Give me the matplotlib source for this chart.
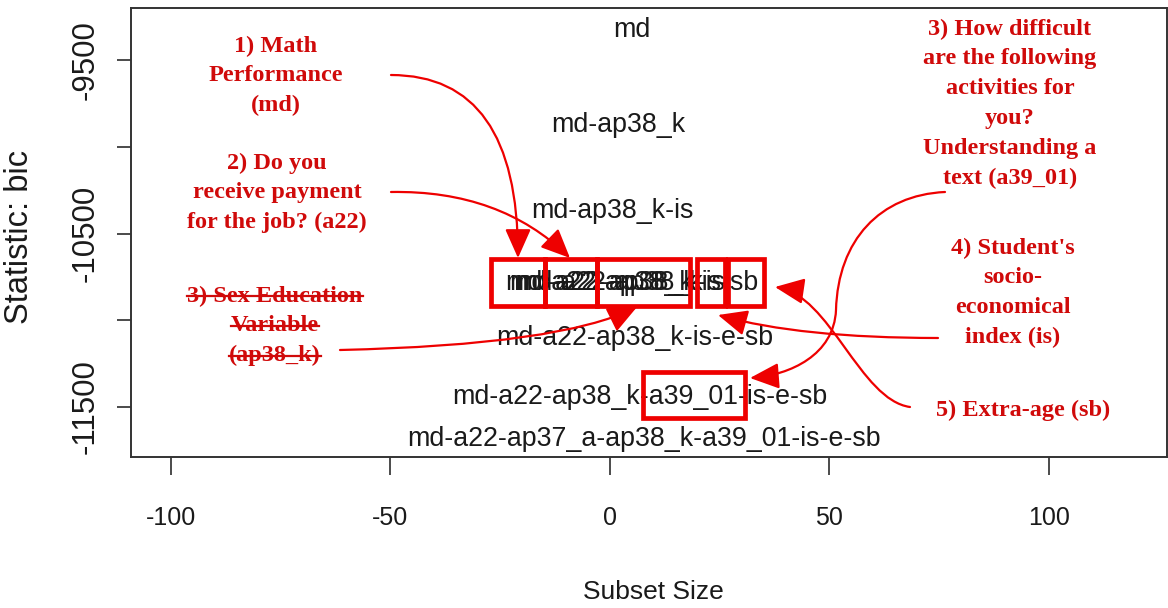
import matplotlib
matplotlib.use("Agg")
import matplotlib.pyplot as plt
from matplotlib.patches import Rectangle, FancyArrowPatch
from matplotlib.path import Path
from matplotlib.lines import Line2D

# best subset at each size: label, x position, bic value
subset_labels = [
    "md",
    "md-ap38_k",
    "md-ap38_k-is",
    "md-a22-ap38_k",
    "md-a22-ap38_k-is",
    "md-a22-ap38_k-is-sb",
    "md-a22-ap38_k-is-e-sb",
    "md-a22-ap38_k-a39_01-is-e-sb",
    "md-a22-ap37_a-ap38_k-a39_01-is-e-sb",
]
label_x = [5.0, 2.0, 0.5, -0.2, 1.7, 5.0, 5.7, 6.7, 7.7]
bic = [-9327, -9875, -10370, -10785, -10785, -10785, -11102, -11442, -11684]

x_ticks = [-100, -50, 0, 50, 100]
y_ticks = [-9500, -10000, -10500, -11000, -11500]
y_tick_labels = ["-9500", "", "-10500", "", "-11500"]

RED_TXT = "#d00a0a"
RED = "#ee0000"
W, H = 1168, 608

fig = plt.figure(figsize=(W / 100, H / 100), dpi=100)
ax = fig.add_axes([131 / W, 1 - 457 / H, (1167 - 131) / W, (457 - 8) / H])

for lab, x, y in zip(subset_labels, label_x, bic):
    ax.text(x, y, lab, ha="center", va="center", fontsize=19.3,
            family="Liberation Sans", color="#1a1a1a")

ax.set_xlim(-109.1, 126.9)
ax.set_ylim(-11788, -9200)
ax.set_xticks(x_ticks)
ax.set_xticklabels([str(v) for v in x_ticks], family="Liberation Sans", fontsize=18)
ax.set_yticks(y_ticks)
ax.set_yticklabels(y_tick_labels, family="Liberation Sans", fontsize=22.5,
                   rotation=90, va="center")
ax.tick_params(axis="x", length=13, width=1.1, pad=22, colors="#1a1a1a")
ax.tick_params(axis="y", length=10, width=1.1, pad=12, colors="#1a1a1a")
for s in ax.spines.values():
    s.set_linewidth(1.4)
    s.set_color("#333333")

fig.text(653 / W, 1 - 592 / H, "Subset Size", ha="center", va="center",
         fontsize=19, family="Liberation Sans", color="#1a1a1a")
fig.text(20 / W, 1 - 237 / H, "Statistic: bic", ha="center", va="center",
         rotation=90, fontsize=23.5, family="Liberation Sans", color="#1a1a1a")


def fxy(px, py):
    return (px / W, 1 - py / H)


# red annotation blocks: lines, centre x, first line y, strike-through
notes = [
    (["1) Math", "Performance", "(md)"], 276, 46, False),
    (["2) Do you", "receive payment", "for the job? (a22)"], 277, 163, False),
    (["3) Sex Education", "Variable", "(ap38_k)"], 275, 296, True),
    (["3) How difficult", "are the following", "activities for", "you?",
      "Understanding a", "text (a39_01)"], 1010, 29, False),
    (["4) Student's", "socio-", "economical", "index (is)"], 1013, 248, False),
    (["5) Extra-age (sb)"], 1023, 410, False),
]
struck = []
for lines, cx, y0, strike in notes:
    for i, ln in enumerate(lines):
        t = fig.text(*fxy(cx, y0 + i * 29.8), ln, ha="center", va="center",
                     fontsize=17.5, family="Liberation Serif", weight="bold",
                     color=RED_TXT)
        if strike:
            struck.append(t)

fig.canvas.draw()
rend = fig.canvas.get_renderer()
for t in struck:
    bb = t.get_window_extent(rend).transformed(fig.transFigure.inverted())
    ym = (bb.y0 + bb.y1) / 2
    fig.add_artist(Line2D([bb.x0, bb.x1], [ym, ym], color=RED_TXT, lw=1.6,
                          transform=fig.transFigure))

# highlight boxes (pixel extents)
boxes = [(491, 545, 259, 306), (545, 597, 259, 306), (597, 690, 259, 306),
         (697, 725, 259, 306), (728, 764, 259, 306), (643, 745, 372, 418)]
for x0, x1, y0, y1 in boxes:
    fig.add_artist(Rectangle(fxy(x0, y1), (x1 - x0) / W, (y1 - y0) / H,
                             fill=False, ec=RED, lw=3.4, joinstyle="miter",
                             transform=fig.transFigure))

C3, C4 = Path.CURVE3, Path.CURVE4
arrows = [
    ([(391, 75), (518, 75), (518, 258)], [Path.MOVETO, C3, C3]),
    ([(391, 192), (500, 190), (570, 258)], [Path.MOVETO, C3, C3]),
    ([(340, 350), (560, 345), (637, 307)], [Path.MOVETO, C3, C3]),
    ([(945, 192), (880, 195), (838, 240), (836, 310),
      (834, 355), (790, 375), (750, 378)],
     [Path.MOVETO, C4, C4, C4, C4, C4, C4]),
    ([(938, 338), (800, 338), (718, 315)], [Path.MOVETO, C3, C3]),
    ([(910, 407), (860, 400), (830, 295), (775, 287)],
     [Path.MOVETO, C4, C4, C4]),
]
for verts, codes in arrows:
    p = Path([fxy(*v) for v in verts], codes)
    fig.add_artist(FancyArrowPatch(path=p, arrowstyle="-|>,head_length=0.9,head_width=0.4",
                                   mutation_scale=20, color=RED, lw=1.6,
                                   transform=fig.transFigure))

fig.savefig("out.png", dpi=100)
